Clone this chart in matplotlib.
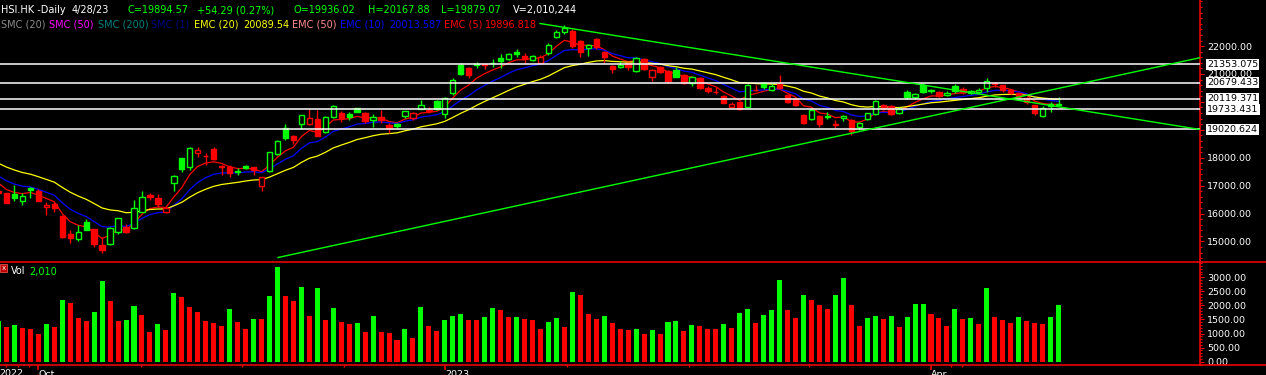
import matplotlib
matplotlib.use("Agg")
import matplotlib.pyplot as plt
from matplotlib.patches import Rectangle
from matplotlib.lines import Line2D
from matplotlib.ticker import FixedLocator, MultipleLocator, FormatStrFormatter
import matplotlib.transforms as mtrans
import numpy as np

plt.rcParams['font.family'] = ['DejaVu Sans']

# ---------------- data ----------------
opens = [16790, 16724, 16699, 16448, 16903, 16817, 16222, 16341, 15911, 15255,
         15086, 15706, 15434, 14860, 14896, 15348, 15505, 15470, 16065, 16663,
         16545, 16065, 17104, 17978, 17656, 18158, 18061, 18301, 17690, 17656,
         17534, 17703, 17656, 16996, 17534, 18122, 19054, 18788, 19197, 19197,
         19387, 18932, 19469, 19591, 19577, 19770, 19591, 19351, 19459, 19172,
         19197, 19505, 19434, 19745, 19710, 20032, 19555, 20308, 21322, 21225,
         21333, 21347, 21394, 21573, 21527, 21799, 21645, 21502, 21405, 21763,
         22337, 22516, 22541, 22193, 21921, 22254, 21799, 21297, 21261, 21383,
         21118, 21527, 20882, 21240, 21118, 21143, 20964, 20688, 20846, 20487,
         20365, 20211, 19806, 20007, 19828, 20440, 20667, 20426, 20631, 20247,
         20104, 19523, 19387, 19487, 19470, 19200, 19412, 19351, 19111, 19387,
         19555, 19889, 19853, 19620, 20365, 20186, 20606, 20380, 20354, 20260,
         20570, 20462, 20330, 20350, 20490, 20670, 20606, 20440, 20308, 20129,
         19889, 19494, 19930, 19936.02]
highs = [16850, 16745, 17022, 16724, 16961, 16867, 16423, 16423, 15930, 15409,
         15588, 15792, 15450, 15169, 15500, 15850, 15610, 16484, 16807, 16724,
         16699, 16270, 17380, 18000, 18370, 18394, 18179, 18373, 17738, 17738,
         17620, 17738, 17680, 17308, 18210, 18620, 19197, 18800, 19540, 19734,
         19710, 19491, 19890, 19674, 19649, 19792, 19650, 19555, 19710, 19260,
         19233, 19674, 19640, 20068, 19806, 20060, 20160, 20850, 21383, 21250,
         21441, 21360, 21527, 21706, 21760, 21885, 21742, 21680, 21680, 22100,
         22560, 22756, 22600, 22220, 22080, 22290, 21820, 21320, 21476, 21420,
         21600, 21560, 21180, 21280, 21140, 21240, 21000, 20920, 20880, 20560,
         20545, 20250, 20000, 20050, 20640, 20620, 20700, 20640, 20964, 20280,
         20140, 19560, 19780, 19520, 19630, 19340, 19520, 19390, 19270, 19620,
         20060, 19920, 19890, 19800, 20420, 20310, 20660, 20470, 20390, 20380,
         20640, 20520, 20440, 20500, 20850, 20730, 20620, 20460, 20330, 20190,
         19900, 19840, 19990, 20167.88]
lows = [16650, 16370, 16459, 16305, 16545, 16440, 15946, 16065, 15111, 14954,
        15025, 15400, 14789, 14574, 14860, 15265, 15290, 15440, 16040, 16484,
        16244, 16007, 16817, 17498, 17559, 18036, 17738, 17930, 17380, 17298,
        17380, 17600, 17380, 16807, 17500, 18090, 18634, 18491, 19029, 19180,
        18778, 18900, 19440, 19290, 19351, 19627, 19230, 19111, 19233, 18896,
        19054, 19412, 19350, 19730, 19613, 19700, 19412, 20250, 20964, 20846,
        21204, 21179, 21261, 21204, 21500, 21598, 21383, 21450, 21380, 21680,
        22280, 22434, 21921, 21598, 21645, 21900, 21405, 21046, 21200, 21150,
        21080, 21130, 20749, 21040, 20688, 20880, 20650, 20580, 20450, 20330,
        20283, 19950, 19780, 19700, 19800, 20380, 20480, 20380, 20450, 19950,
        19850, 19210, 19350, 19111, 19370, 19080, 19330, 18814, 18990, 19350,
        19520, 19700, 19530, 19560, 20120, 20090, 20330, 20320, 20180, 20200,
        20330, 20300, 20290, 20320, 20360, 20520, 20360, 20280, 20140, 19940,
        19530, 19470, 19650, 19879.07]
closes = [16720, 16387, 16545, 16627, 16842, 16459, 16305, 16187, 15147, 15120,
          15326, 15409, 14896, 14692, 15470, 15828, 15348, 16187, 16602, 16581,
          16341, 16187, 17344, 17595, 18337, 18276, 18050, 17943, 17677, 17441,
          17477, 17620, 17559, 17298, 18194, 18599, 18695, 18634, 19520, 19412,
          18788, 19459, 19864, 19412, 19459, 19649, 19326, 19459, 19351, 19075,
          19147, 19663, 19591, 19889, 19674, 19745, 20129, 20785, 21000, 20964,
          21347, 21333, 21405, 21476, 21706, 21710, 21527, 21645, 21620, 22039,
          22516, 22637, 22003, 21800, 22039, 21957, 21620, 21179, 21322, 21250,
          21562, 21168, 21143, 21082, 20760, 20903, 20688, 20882, 20487, 20401,
          20343, 19971, 19925, 19735, 20606, 20425, 20545, 20580, 20487, 20007,
          19889, 19247, 19710, 19190, 19487, 19180, 19505, 18968, 19233, 19591,
          20032, 19760, 19566, 19740, 20165, 20283, 20365, 20420, 20211, 20332,
          20400, 20365, 20400, 20438, 20760, 20650, 20426, 20320, 20186, 20007,
          19591, 19790, 19840.28, 19894.57]
close_before_first = 16800
volumes = [1450, 1250, 1300, 1210, 1160, 990, 1340, 1250, 2190, 2090,
           1550, 1450, 1770, 2870, 2160, 1450, 1480, 1980, 1660, 1060,
           1340, 1130, 2440, 2300, 1940, 1770, 1450, 1380, 1270, 1870,
           1410, 1160, 1520, 1500, 2340, 3370, 2330, 2160, 2660, 1620,
           2620, 1480, 1910, 1410, 1340, 1380, 1060, 1620, 1060, 1020,
           770, 1160, 840, 1940, 1270, 1090, 1480, 1620, 1700, 1480,
           1470, 1590, 1910, 1840, 1580, 1600, 1520, 1480, 1160, 1410,
           1550, 1230, 2480, 2370, 1700, 1520, 1620, 1380, 1160, 1130,
           1160, 990, 1130, 990, 1410, 1450, 1090, 1300, 1270, 1160,
           1150, 1340, 1200, 1730, 1870, 1380, 1660, 1840, 2900, 1840,
           1550, 2370, 2190, 2020, 1870, 2370, 2980, 2020, 1270, 1550,
           1620, 1520, 1620, 1230, 1590, 2050, 2060, 1700, 1550, 1270,
           1870, 1500, 1540, 1340, 2620, 1590, 1480, 1380, 1590, 1450,
           1380, 1340, 1590, 2010]
ema_periods = [5, 10, 20]
ema_seeds = [17280, 17483, 17913]
ema_colors = ['#ff0000', '#0000ff', '#ffff00']
levels = [21353.075, 20679.433, 20119.371, 19733.431, 19020.624]
trend_down_x = [67.94, 150.75]
trend_down_y = [22810, 19011]
trend_up_x = [35.07, 150.75]
trend_up_y = [14423, 21584]
date_tick_pos = [5, 56, 117]
date_tick_labels = ['Oct', '2023', 'Apr']
date_minor_pos = [1, 2.4, 3.8, 17.9, 30.5, 43.3, 71.3, 86.6, 101.7, 119.5, 120.9]
price_ticks = [15000, 16000, 17000, 18000, 19000, 20000, 21000, 22000]
vol_ticks = [0, 500, 1000, 1500, 2000, 2500, 3000]
legend_items = [('SMC (20)', '#8c8c8c'), ('SMC (50)', '#ff00ff'), ('SMC (200)', '#008080'),
                ('SMC (1)', '#000080'), ('EMC (20)', '#ffff00'), ('20089.54', '#ffff00'),
                ('EMC (50)', '#ff8c8c'), ('EMC (10)', '#0000ff'), ('20013.587', '#0000ff'),
                ('EMC (5)', '#ff0000'), ('19896.818', '#ff0000')]
legend_x = [1, 49, 98, 151, 194, 243, 292, 340, 389, 444, 485]

# ---------------- layout ----------------
GREEN = '#00ff00'
RED = '#ff0000'
W, H = 1266, 375
fig = plt.figure(figsize=(W / 100, H / 100), dpi=100)
fig.patch.set_facecolor('black')


def box(l, t, r, b):
    return [l / W, 1 - b / H, (r - l) / W, (b - t) / H]


AXR = 1200
axp = fig.add_axes(box(0, 0, AXR, 261.5))
axv = fig.add_axes(box(0, 262, AXR, 364.5))
xl = (0.188, 150.75)

for ax in (axp, axv):
    ax.set_facecolor('black')
    for s in ('left', 'top', 'bottom'):
        ax.spines[s].set_visible(False)
    ax.spines['right'].set_color(RED)
    ax.spines['right'].set_linewidth(1.1)
    ax.yaxis.tick_right()
    ax.tick_params(axis='y', which='major', color=RED, labelcolor='white',
                   length=2.6, width=0.8, pad=2.6, labelsize=6.8)
    ax.tick_params(axis='y', which='minor', color=RED, length=1.5, width=0.8)
    ax.set_xlim(xl)

axp.set_ylim(14280, 23652)
axv.set_ylim(-100, 3544)
axp.tick_params(axis='x', which='both', bottom=False, labelbottom=False)

axp.yaxis.set_major_locator(FixedLocator(price_ticks))
axp.yaxis.set_minor_locator(MultipleLocator(200))
axp.yaxis.set_major_formatter(FormatStrFormatter('%.2f'))
axv.yaxis.set_major_locator(FixedLocator(vol_ticks))
axv.yaxis.set_minor_locator(MultipleLocator(100))
axv.yaxis.set_major_formatter(FormatStrFormatter('%.2f'))

axv.xaxis.set_major_locator(FixedLocator(date_tick_pos))
axv.xaxis.set_minor_locator(FixedLocator(date_minor_pos))
axv.set_xticklabels(date_tick_labels)
axv.tick_params(axis='x', which='major', color=RED, labelcolor='white', length=3.6,
                width=1.1, pad=0.3, labelsize=6.8)
axv.tick_params(axis='x', which='minor', color=RED, length=1.6, width=0.9)
for lbl in axv.get_xticklabels():
    lbl.set_horizontalalignment('left')

# ---------------- price panel ----------------
x = np.arange(len(closes))
prev_close = [close_before_first] + closes[:-1]

# moving averages
for n, seed, col in zip(ema_periods, ema_seeds, ema_colors):
    a = 2.0 / (n + 1)
    e = seed
    vals = []
    for c in closes:
        e = e + a * (c - e)
        vals.append(e)
    axp.plot(x, vals, color=col, lw=0.9, zorder=2)

bw = 0.67
for i in x:
    o, h, l, c = opens[i], highs[i], lows[i], closes[i]
    col = GREEN if c > prev_close[i] else RED
    axp.vlines(i, l, h, color=col, lw=1.0, zorder=3)
    hollow = c > o
    axp.add_patch(Rectangle((i - bw / 2, min(o, c)), bw, abs(c - o),
                            facecolor='black' if hollow else col, edgecolor=col,
                            lw=1.0, zorder=4))

for lv in levels:
    axp.axhline(lv, color='white', lw=1.1, zorder=5)
    axp.text(1 + 7.2 / AXR, lv, f"{lv:.3f}",
             transform=mtrans.blended_transform_factory(axp.transAxes, axp.transData),
             ha='left', va='center', fontsize=6.8, color='black', clip_on=False,
             bbox=dict(boxstyle='square,pad=0.1', fc='white', ec='none'), zorder=6)

axp.plot(trend_down_x, trend_down_y, color=GREEN, lw=1.0, zorder=6)
axp.plot(trend_up_x, trend_up_y, color=GREEN, lw=1.0, zorder=6)

# ---------------- volume panel ----------------
vcols = [GREEN if (j == 0 or volumes[j] > volumes[j - 1]) else RED for j in range(len(volumes))]
axv.bar(x, volumes, width=0.63, color=vcols, linewidth=0, zorder=3)

# ---------------- frame lines ----------------
for yy in (261.5, 364.5):
    fig.add_artist(Line2D([0, 1], [1 - yy / H] * 2, color=RED, lw=1.1,
                          transform=fig.transFigure))

# ---------------- texts ----------------
def ftext(xp, yp, s, col, size=7.0, **kw):
    fig.text(xp / W, 1 - yp / H, s, color=col, fontsize=size, ha='left', va='baseline', **kw)


chg = closes[-1] - closes[-2]
pct = chg / closes[-2] * 100
hdr = [(1, 'HSI.HK -Daily', 'white'), (72, '4/28/23', 'white'),
       (127, f'C={closes[-1]:.2f}', GREEN), (197, f'{chg:+.2f} ({pct:.2f}%)', GREEN),
       (293, f'O={opens[-1]:.2f}', GREEN), (368, f'H={highs[-1]:.2f}', GREEN),
       (441, f'L={lows[-1]:.2f}', GREEN), (513, 'V=2,010,244', 'white')]
for xp, s, col in hdr:
    ftext(xp, 13.2, s, col)
for xp, (s, col) in zip(legend_x, legend_items):
    ftext(xp, 27.5, s, col)

# volume label with small close icon
fig.add_artist(Rectangle((0, 1 - 272 / H), 7.3 / W, 8 / H, transform=fig.transFigure,
                         facecolor='#c00000', edgecolor='#ff6060', lw=0.5))
fig.text(3.6 / W, 1 - 268 / H, 'x', color='white', fontsize=5, ha='center', va='center')
ftext(11, 274.5, 'Vol', 'white')
ftext(29.5, 274.5, f'{volumes[-1]:,}', GREEN)

# first (partially visible) date label
fig.text(-1 / W, 1 - 369 / H, '2022', color='white', fontsize=6.8, ha='left', va='top')

fig.savefig('out.png', dpi=100, facecolor='black')
